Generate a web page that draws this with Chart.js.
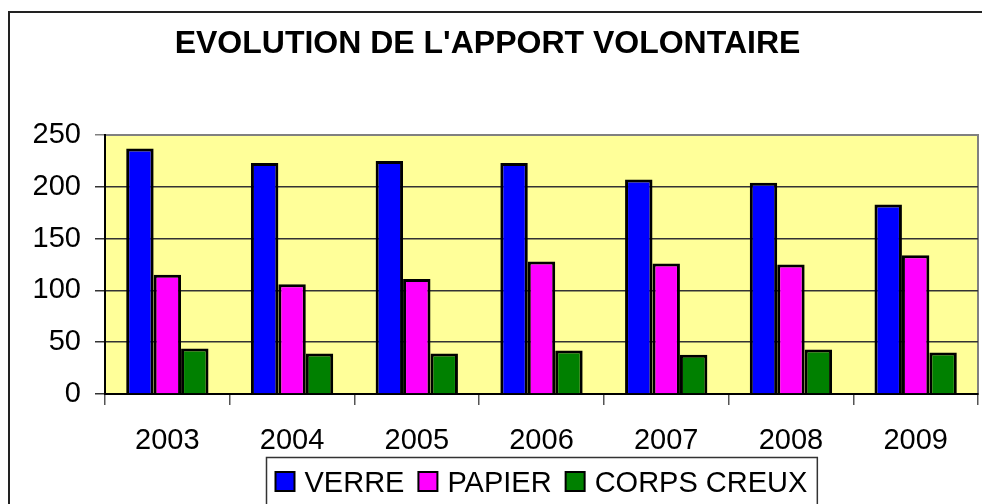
<!DOCTYPE html>
<html>
<head>
<meta charset="utf-8">
<script src="https://cdn.jsdelivr.net/npm/chart.js@4/dist/chart.umd.min.js"></script>
<style>
  html, body { margin: 0; padding: 0; background: #fff; }
  #wrap { position: relative; width: 982px; height: 504px; }
</style>
</head>
<body>
<div id="wrap"><canvas id="c" width="982" height="504"></canvas></div>
<script>
const TITLE = "EVOLUTION DE L'APPORT VOLONTAIRE";
const categories = ["2003", "2004", "2005", "2006", "2007", "2008", "2009"];
const verre = [237, 223, 225, 223, 207, 204, 183];
const papier = [115, 106, 111, 128, 126, 125, 134];
const corpsCreux = [44, 39, 39, 42, 38, 43, 40];
const seriesNames = ["VERRE", "PAPIER", "CORPS CREUX"];
const seriesColors = ["#0000FF", "#FF00FF", "#008000"];
const yTicks = [0, 50, 100, 150, 200, 250];

const FONT = "'Liberation Sans', Arial, sans-serif";

const decor = {
  id: 'decor',
  beforeDraw(chart) {
    const ctx = chart.ctx;
    const a = chart.chartArea;
    ctx.save();
    ctx.fillStyle = '#fff';
    ctx.fillRect(0, 0, chart.width, chart.height);
    // outer frame
    ctx.strokeStyle = '#222';
    ctx.lineWidth = 2;
    ctx.beginPath();
    ctx.moveTo(9, chart.height + 2);
    ctx.lineTo(9, 12);
    ctx.lineTo(chart.width + 2, 12);
    ctx.stroke();
    // plot background
    ctx.fillStyle = '#FFFF99';
    ctx.fillRect(a.left, a.top, a.right - a.left, a.bottom - a.top);
    ctx.strokeStyle = '#808080';
    ctx.lineWidth = 2;
    ctx.strokeRect(a.left, a.top, a.right - a.left, a.bottom - a.top);
    // title
    ctx.fillStyle = '#000';
    ctx.font = 'bold 32px ' + FONT;
    ctx.textAlign = 'center';
    ctx.textBaseline = 'alphabetic';
    ctx.fillText(TITLE, 487.5, 53);
    ctx.restore();
  },
  afterDraw(chart) {
    const ctx = chart.ctx;
    const a = chart.chartArea;
    ctx.save();
    ctx.font = '29px ' + FONT;
    const box = 19, gapText = 10, gapItem = 14, padL = 9, padR = 10;
    const ds = chart.data.datasets;
    const widths = ds.map(d => ctx.measureText(d.label).width);
    let total = padL + padR;
    widths.forEach((w, i) => { total += box + gapText + w + (i < widths.length - 1 ? gapItem : 0); });
    const cx = (a.left + a.right) / 2;
    const left = Math.round(cx - total / 2) + 0.5;
    const top = 457.5;
    ctx.strokeStyle = '#333';
    ctx.lineWidth = 1.5;
    ctx.beginPath();
    ctx.moveTo(left, chart.height + 2);
    ctx.lineTo(left, top);
    ctx.lineTo(left + total, top);
    ctx.lineTo(left + total, chart.height + 2);
    ctx.stroke();
    let x = left + padL;
    ds.forEach((d, i) => {
      ctx.fillStyle = d.backgroundColor;
      ctx.fillRect(x, 472, box, box);
      ctx.strokeStyle = '#000';
      ctx.lineWidth = 2;
      ctx.strokeRect(x, 472, box, box);
      ctx.fillStyle = '#000';
      ctx.textAlign = 'left';
      ctx.textBaseline = 'alphabetic';
      ctx.fillText(d.label, x + box + gapText, 492);
      x += box + gapText + widths[i] + gapItem;
    });
    ctx.restore();
  }
};

const seriesData = [verre, papier, corpsCreux];

new Chart(document.getElementById('c'), {
  type: 'bar',
  data: {
    labels: categories,
    datasets: seriesData.map((vals, i) => ({
      label: seriesNames[i],
      data: vals,
      backgroundColor: seriesColors[i],
      borderColor: '#000',
      borderWidth: 3,
      borderSkipped: 'bottom',
      categoryPercentage: 0.66,
      barPercentage: 1.0
    }))
  },
  options: {
    responsive: false,
    animation: false,
    events: [],
    layout: { padding: { top: 135, left: 0, right: 4, bottom: 0 } },
    plugins: {
      legend: { display: false },
      title: { display: false },
      tooltip: { enabled: false }
    },
    scales: {
      x: {
        afterFit(scale) { scale.height = 110; },
        grid: {
          display: true,
          drawOnChartArea: false,
          drawTicks: true,
          tickLength: 11,
          color: '#555',
          lineWidth: 1.5
        },
        border: { display: true, color: '#000', width: 2 },
        ticks: {
          color: '#000',
          font: { family: FONT, size: 29 },
          padding: 19,
          maxRotation: 0
        }
      },
      y: {
        min: 0,
        max: 250,
        afterFit(scale) { scale.width = 105; },
        afterBuildTicks(scale) { scale.ticks = yTicks.map(v => ({ value: v })); },
        grid: {
          drawTicks: true,
          tickLength: 10,
          color: (c) => (c.tick && c.tick.value === 250) ? '#808080' : '#333',
          lineWidth: 1.5
        },
        border: { display: true, color: '#000', width: 2 },
        ticks: {
          color: '#000',
          font: { family: FONT, size: 29 },
          padding: 14
        }
      }
    }
  },
  plugins: [decor]
});
</script>
</body>
</html>
